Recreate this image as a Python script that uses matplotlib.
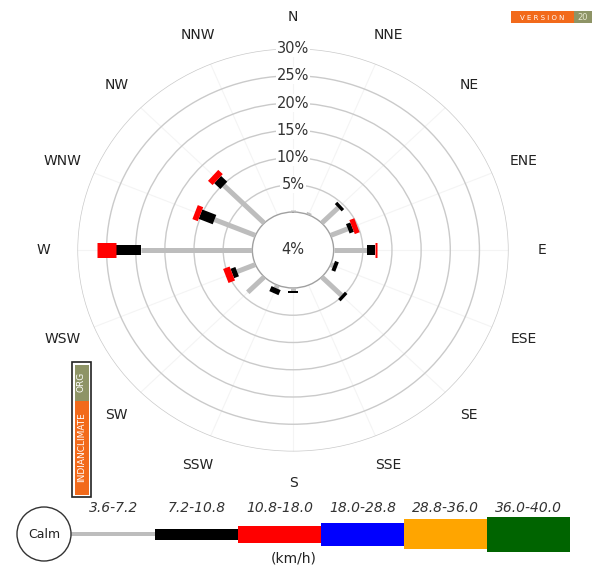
import numpy as np
import matplotlib
matplotlib.use("Agg")
import matplotlib.pyplot as plt
from matplotlib.patches import Ellipse, Rectangle

# wind frequency (%) per direction, split by speed class
directions = ['N', 'NNE', 'NE', 'ENE', 'E', 'ESE', 'SE', 'SSE',
              'S', 'SSW', 'SW', 'WSW', 'W', 'WNW', 'NW', 'NNW']
speed_3_7 = [0.3, 0.4, 4.0, 3.2, 5.7, 0.5, 4.8, 0.0,
             0.6, 0.6, 4.0, 3.4, 19.1, 7.6, 9.8, 0.0]
speed_7_11 = [0.0, 0.0, 0.6, 0.8, 1.4, 0.7, 0.6, 0.0,
              0.4, 1.0, 0.0, 0.9, 4.3, 2.6, 1.5, 0.0]
speed_11_18 = [0.0, 0.0, 0.0, 0.9, 0.4, 0.0, 0.0, 0.0,
               0.0, 0.0, 0.0, 1.2, 3.2, 1.0, 1.1, 0.0]
calm_pct = 4
ring_pcts = [5, 10, 15, 20, 25, 30]
speed_bins = ['3.6-7.2', '7.2-10.8', '10.8-18.0', '18.0-28.8', '28.8-36.0', '36.0-40.0']

bin_colors = ['#bdbdbd', '#000000', '#ff0000', '#0000ff', '#ffa500', '#006400']
rose_widths = [3.6, 7.2, 10.8]          # points
legend_heights = [4, 11, 17, 23, 30, 35]  # pixels

W, H = 595, 567
fig = plt.figure(figsize=(W / 100, H / 100), dpi=100)

# ---- rose ----
cx, cy = 293, 250
ry = 201.5
rx = ry * 1.07
ax = fig.add_axes([(cx - rx) / W, (H - cy - ry) / H, 2 * rx / W, 2 * ry / H],
                  projection='polar')
ax.set_theta_zero_location('N')
ax.set_theta_direction(-1)
ax.set_ylim(0, 30)
ax.set_rorigin(-6.97)
ax.set_aspect('auto')
ax.set_axisbelow(True)

theta = np.deg2rad(np.arange(16) * 22.5)
ax.set_xticks(theta)
ax.set_yticks(ring_pcts)
ax.set_xticklabels([])
ax.set_yticklabels([])
ax.tick_params(length=0)
ax.xaxis.grid(True, color='#f4f4f4', lw=0.8)
ax.yaxis.grid(True, color='#cacaca', lw=1.0)
ax.spines['polar'].set_visible(False)
ax.spines['inner'].set_color('#a0a0a0')
ax.spines['inner'].set_linewidth(1.0)

for th, a, b, c in zip(theta, speed_3_7, speed_7_11, speed_11_18):
    base = 0.0
    for val, col, lw in zip([a, b, c], bin_colors[:3], rose_widths):
        if val > 0:
            ax.plot([th, th], [base, base + val], color=col, lw=lw,
                    solid_capstyle='butt', zorder=3)
        base += val

for p in ring_pcts:
    ax.text(0, p, f'{p}%', ha='center', va='center', fontsize=10.5,
            color='#333333', zorder=4,
            bbox=dict(fc='white', ec='none', pad=0.8))

for th, name in zip(theta, directions):
    ax.text(th, 35.8, name, ha='center', va='center', fontsize=10,
            color='#222222', clip_on=False)

ax.text(0, -6.97, f'{calm_pct}%', ha='center', va='center', fontsize=10.5,
        color='#333333')

# ---- overlay: legend and badges ----
ov = fig.add_axes([0, 0, 1, 1])
ov.set_xlim(0, W)
ov.set_ylim(H, 0)
ov.axis('off')
ov.patch.set_alpha(0)

ly = 534
ov.add_patch(Ellipse((44, ly), 54, 54, fc='white', ec='#333333', lw=1.0, zorder=3))
ov.text(44, ly, 'Calm', ha='center', va='center', fontsize=9, color='#222222', zorder=4)

seg_w = 83.0
x0 = 155 - seg_w
for i, (lab, col, hgt) in enumerate(zip(speed_bins, bin_colors, legend_heights)):
    left = x0 + i * seg_w
    if i == 0:
        ov.add_patch(Rectangle((70, ly - hgt / 2), 155 - 70, hgt, fc=col, ec='none'))
    else:
        ov.add_patch(Rectangle((left, ly - hgt / 2), seg_w, hgt, fc=col, ec='none'))
    ov.text(left + seg_w / 2, 508, lab, ha='center', va='center', fontsize=10,
            style='italic', color='#333333')
ov.text(294, 559, '(km/h)', ha='center', va='center', fontsize=10, color='#222222')

# version badge
ov.add_patch(Rectangle((511, 11), 63, 12, fc='#f26a1b', ec='none'))
ov.add_patch(Rectangle((574, 11), 18, 12, fc='#8e9466', ec='none'))
ov.text(542.5, 17.5, 'V E R S I O N', ha='center', va='center', fontsize=5,
        color='white')
ov.text(583, 17.5, '20', ha='center', va='center', fontsize=6, color='#e8e8d0')

# vertical site badge
ov.add_patch(Rectangle((72, 362), 19, 135, fc='white', ec='#222222', lw=1.2))
ov.add_patch(Rectangle((74.5, 364.5), 14, 36, fc='#8e9466', ec='none'))
ov.add_patch(Rectangle((74.5, 400.5), 14, 94, fc='#f26a1b', ec='none'))
ov.text(81.5, 382, 'ORG', rotation=90, ha='center', va='center', fontsize=6.5,
        color='white')
ov.text(81.5, 447, 'INDIANCLIMATE', rotation=90, ha='center', va='center',
        fontsize=6.5, color='white')

fig.savefig('out.png', dpi=100)
